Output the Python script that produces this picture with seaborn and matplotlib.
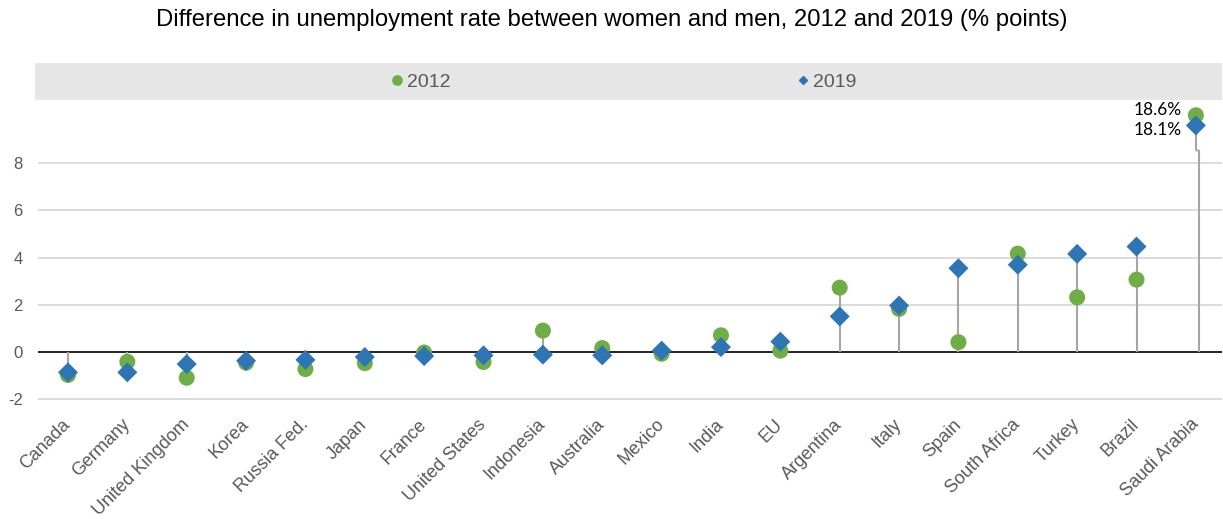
import numpy as np
import pandas as pd
import matplotlib
matplotlib.use("Agg")
import matplotlib.pyplot as plt
import matplotlib.lines as mlines
import matplotlib.patches as mpatches
import matplotlib.transforms as mtransforms
import seaborn as sns

# ---- data ----
countries = ["Canada", "Germany", "United Kingdom", "Korea", "Russia Fed.", "Japan",
             "France", "United States", "Indonesia", "Australia", "Mexico", "India",
             "EU", "Argentina", "Italy", "Spain", "South Africa", "Turkey", "Brazil",
             "Saudi Arabia"]
gap_2012 = [-0.97, -0.41, -1.09, -0.45, -0.72, -0.47, -0.02, -0.42, 0.91, 0.17,
            -0.07, 0.71, 0.06, 2.73, 1.83, 0.42, 4.17, 2.32, 3.07, 18.6]
gap_2019 = [-0.86, -0.86, -0.51, -0.37, -0.33, -0.21, -0.17, -0.14, -0.11, -0.14,
            0.06, 0.21, 0.44, 1.51, 1.97, 3.55, 3.70, 4.16, 4.47, 18.1]
years = ["2012", "2019"]
yticks = [-2, 0, 2, 4, 6, 8]

green = "#70AD47"
blue = "#2E75B6"
stem_col = "#A6A6A6"
grid_col = "#D9D9D9"
txt_col = "#595959"

# broken axis: values above the break are squeezed
BREAK = 8.55
knots_data = [-100, BREAK, 17.4, 100]
knots_plot = [-100, BREAK, 9.0, 9.0 + (100 - 17.4) * 0.86]


def fwd(v):
    return np.interp(v, knots_data, knots_plot)


def inv(v):
    return np.interp(v, knots_plot, knots_data)


df = pd.DataFrame({
    "country": countries * 2,
    "value": gap_2012 + gap_2019,
    "year": ["2012"] * len(countries) + ["2019"] * len(countries),
})

sns.set_style("white")
plt.rcParams["font.family"] = ["Liberation Sans", "DejaVu Sans"]

DPI = 100
fig = plt.figure(figsize=(12.23, 5.19), dpi=DPI)
ax = fig.add_axes([38 / 1223, (519 - 408) / 519, (1222 - 38) / 1223, (408 - 100) / 519])
ax.set_yscale("function", functions=(fwd, inv))

# grid + zero line
for t in yticks:
    if t == 0:
        continue
    ax.axhline(t, color=grid_col, lw=1.3, zorder=0)
ax.axhline(0, color="black", lw=1.2, zorder=1)

# stems from 0 to the larger gap (with a small jog at the axis break)
ext = [a if abs(a) >= abs(b) else b for a, b in zip(gap_2012, gap_2019)]
shift = mtransforms.offset_copy(ax.transData, fig=fig, x=3, y=0, units="dots")
for i, e in enumerate(ext):
    if e > BREAK:
        ax.vlines(i, 0, BREAK, color=stem_col, lw=1.5, zorder=1, transform=shift)
        ax.vlines(i, BREAK, e, color=stem_col, lw=1.5, zorder=1)
        ax.add_line(mlines.Line2D([i, i], [BREAK, BREAK], color=stem_col, lw=1.5,
                                  transform=ax.transData + mtransforms.Affine2D().translate(1.5, 0),
                                  marker="_", markersize=3))
    else:
        ax.vlines(i, 0, e, color=stem_col, lw=1.5, zorder=1)

sns.scatterplot(data=df, x="country", y="value", hue="year", style="year", size="year",
                palette={"2012": green, "2019": blue},
                markers={"2012": "o", "2019": "D"},
                sizes={"2012": 133, "2019": 104},
                linewidth=0, legend=False, zorder=3, ax=ax)

# labels for the squeezed values
last = len(countries) - 1
ax.annotate(f"{gap_2012[last]}%", xy=(last, gap_2012[last]), xytext=(-10, 3.5),
            textcoords="offset points", ha="right", va="center", fontsize=12.5,
            family="Lato", color="black")
ax.annotate(f"{gap_2019[last]}%", xy=(last, gap_2019[last]), xytext=(-10, -3),
            textcoords="offset points", ha="right", va="center", fontsize=12.5,
            family="Lato", color="black")

ax.set_xlim(-0.505, 19.44)
ax.set_ylim(inv(-2.37), inv(10.68))
ax.set_yticks(yticks)
ax.set_yticklabels([str(t) for t in yticks])
ax.set_xlabel("")
ax.set_ylabel("")
ax.tick_params(axis="y", length=0, pad=11, labelsize=12, labelcolor=txt_col)
ax.tick_params(axis="x", length=0, pad=10, labelsize=13, labelcolor=txt_col)
plt.setp(ax.get_xticklabels(), rotation=45, ha="right", va="center", rotation_mode="anchor")
for s in ax.spines.values():
    s.set_visible(False)

# legend band on top
fig.patches.append(mpatches.Rectangle((35 / 1223, 1 - 100 / 519), (1222 - 35) / 1223, 37 / 519,
                                      transform=fig.transFigure, facecolor="#E6E6E6",
                                      edgecolor="none", zorder=0))
handles = [
    mlines.Line2D([], [], color=green, marker="o", linestyle="None", markersize=6.7, label="2012"),
    mlines.Line2D([], [], color=blue, marker="D", linestyle="None", markersize=4.2, label="2019"),
]
fig.legend(handles=handles, loc="center left", bbox_to_anchor=(392 / 1223, 1 - 82 / 519),
           ncol=2, frameon=False, fontsize=14, labelcolor=txt_col, handlelength=0.5,
           handletextpad=0.26, columnspacing=17.9, borderpad=0, borderaxespad=0)

fig.text(0.5, 1 - 20 / 519,
         "Difference in unemployment rate between women and men, 2012 and 2019 (% points)",
         ha="center", va="center", fontsize=17.2, color="black")

fig.savefig("out.png", dpi=DPI)
